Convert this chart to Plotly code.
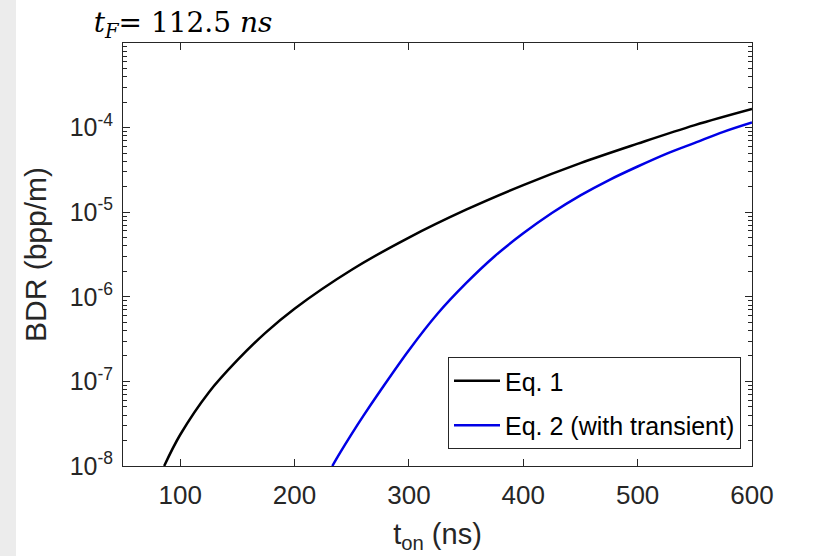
import plotly.graph_objects as go

# ---- data ----
t_eq1 = [86, 100, 125, 150, 175, 200, 250, 300, 350, 400, 450, 500, 550, 600]
bdr_eq1 = [1.00e-8, 2.34e-8, 7.41e-8, 1.78e-7, 3.80e-7, 7.24e-7, 2.09e-6, 5.01e-6,
           1.07e-5, 2.09e-5, 3.80e-5, 6.46e-5, 1.07e-4, 1.66e-4]

t_eq2 = [233, 240, 250, 260, 275, 300, 325, 350, 375, 400, 425, 450, 475, 500,
         525, 550, 575, 600]
bdr_eq2 = [1.00e-8, 1.45e-8, 2.40e-8, 3.89e-8, 7.76e-8, 2.34e-7, 6.31e-7, 1.45e-6,
           3.02e-6, 5.62e-6, 9.77e-6, 1.58e-5, 2.40e-5, 3.47e-5, 4.90e-5, 6.61e-5,
           8.91e-5, 1.15e-4]

x_ticks = [100, 200, 300, 400, 500, 600]
y_ticks = [1e-8, 1e-7, 1e-6, 1e-5, 1e-4]
y_ticktext = ["10<sup>-8</sup>", "10<sup>-7</sup>", "10<sup>-6</sup>",
              "10<sup>-5</sup>", "10<sup>-4</sup>"]
y_minor = [k * 10.0 ** e for e in range(-8, -3) for k in range(2, 10)]

labels = ["Eq. 1", "Eq. 2 (with transient)"]
colors = ["#000000", "#0000e6"]

AX = "#262626"
SANS = "Liberation Sans, Arial, sans-serif"

fig = go.Figure()
fig.add_trace(go.Scatter(x=t_eq1, y=bdr_eq1, mode="lines", name=labels[0],
                         line=dict(color=colors[0], width=2.5, shape="spline"),
                         legendgroup="a"))
fig.add_trace(go.Scatter(x=t_eq2, y=bdr_eq2, mode="lines", name=labels[1],
                         line=dict(color=colors[1], width=2.5, shape="spline"),
                         legendgroup="b"))

W, H = 827, 556
L, R, T, B = 123, 75, 43, 90
pw, ph = W - L - R, H - T - B

fig.add_shape(type="rect", xref="paper", yref="paper",
              x0=-L / pw, x1=(16 - L) / pw, y0=-B / ph, y1=1 + T / ph,
              fillcolor="#ececec", line=dict(width=0), layer="below")

fig.update_layout(
    width=W, height=H,
    margin=dict(l=L, r=R, t=T, b=B),
    paper_bgcolor="white", plot_bgcolor="white",
    font=dict(family=SANS, color=AX),
    title=dict(text="<i>t</i><sub><i>F</i></sub>= 112.5 <i>ns</i>",
               font=dict(family="DejaVu Serif", size=28, color="black"),
               x=183 / W, xanchor="center", xref="container",
               y=1 - 22 / H, yanchor="middle", yref="container"),
    legend=dict(x=(448 - L) / pw, y=(H - B - 357) / ph, xanchor="left", yanchor="top",
                bgcolor="white", bordercolor=AX, borderwidth=1,
                font=dict(family=SANS, size=25, color="black"),
                tracegroupgap=9, itemwidth=46),
    showlegend=True,
)

fig.update_xaxes(range=[50, 600], tickmode="array", tickvals=x_ticks,
                 ticks="inside", ticklen=7, tickcolor=AX, tickwidth=1,
                 showline=True, linecolor=AX, linewidth=1, mirror="ticks",
                 showgrid=False, zeroline=False, ticklabelstandoff=6,
                 tickfont=dict(size=26, color=AX),
                 title=dict(text="t<sub>on</sub> (ns)", font=dict(size=29, color=AX),
                            standoff=14))
fig.update_yaxes(type="log", range=[-8, -3], tickmode="array", tickvals=y_ticks,
                 ticktext=y_ticktext,
                 ticks="inside", ticklen=7, tickcolor=AX, tickwidth=1,
                 minor=dict(tickmode="array", tickvals=y_minor, ticks="inside",
                            ticklen=4, tickcolor=AX, showgrid=False),
                 showline=True, linecolor=AX, linewidth=1, mirror="ticks",
                 showgrid=False, zeroline=False, ticklabelstandoff=4,
                 tickfont=dict(size=25, color=AX),
                 title=dict(text="BDR (bpp/m)", font=dict(size=30, color=AX),
                            standoff=14))

fig.write_html("out.html")
